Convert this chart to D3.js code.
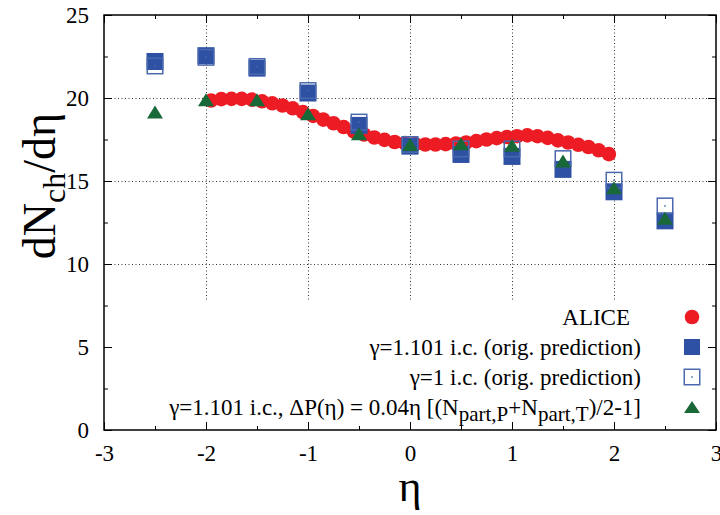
<!DOCTYPE html>
<html>
<head>
<meta charset="utf-8">
<script src="https://cdn.jsdelivr.net/npm/d3@7/dist/d3.min.js"></script>
<style>
  html, body { margin: 0; padding: 0; background: #fff; }
  svg { display: block; }
</style>
</head>
<body>
<script>
// ---------------- data ----------------
const aliceEta = [-1.95,-1.85,-1.75,-1.65,-1.55,-1.45,-1.35,-1.25,-1.15,-1.05,
                  -0.95,-0.85,-0.75,-0.65,-0.55,-0.45,-0.35,-0.25,-0.15,-0.05,
                   0.05, 0.15, 0.25, 0.35, 0.45, 0.55, 0.65, 0.75, 0.85, 0.95,
                   1.05, 1.15, 1.25, 1.35, 1.45, 1.55, 1.65, 1.75, 1.85, 1.95];
const aliceVal = [19.85,19.93,19.95,19.95,19.90,19.80,19.68,19.55,19.38,19.15,
                  18.92,18.70,18.48,18.25,17.98,17.80,17.62,17.48,17.35,17.28,
                  17.22,17.20,17.20,17.22,17.25,17.32,17.40,17.50,17.58,17.65,
                  17.70,17.75,17.70,17.60,17.45,17.32,17.18,17.05,16.85,16.62];
const modelEta = [-2.5,-2,-1.5,-1,-0.5,0,0.5,1,1.5,2,2.5];
const gamma1101 = [22.20,22.55,21.80,20.30,18.35,17.10,16.60,16.48,15.70,14.35,12.60];
const gamma1    = [21.93,22.45,21.90,20.45,18.55,17.20,16.93,16.93,16.35,15.05,13.50];
const gammaDP   = [19.15,19.90,19.90,19.05,17.85,17.20,17.25,17.15,16.20,14.60,12.75];
const xTicks = [-3,-2,-1,0,1,2,3];
const yTicks = [0,5,10,15,20,25];
const xGrid = [-2,-1,0,1,2];
const yGrid = [10,15,20];
const legendLabels = ["ALICE",
  "γ=1.101 i.c. (orig. prediction)",
  "γ=1 i.c. (orig. prediction)",
  "γ=1.101 i.c., ΔP(η) = 0.04η [(N_part,P+N_part,T)/2-1]"];

// ---------------- font pick ----------------
function pickFont(cands) {
  const c = document.createElement("canvas").getContext("2d");
  const s = "γ=1.101 i.c. (orig. prediction) ALICE 0123456789";
  const base = {};
  ["monospace", "sans-serif"].forEach(b => { c.font = "40px " + b; base[b] = c.measureText(s).width; });
  for (const f of cands) {
    let ok = true;
    for (const b of ["monospace", "sans-serif"]) {
      c.font = `40px "${f}", ${b}`;
      if (Math.abs(c.measureText(s).width - base[b]) < 0.01) { ok = false; }
    }
    if (ok) return `"${f}"`;
  }
  return "serif";
}
const FONT = pickFont(["Liberation Serif", "Times New Roman", "Tinos", "Nimbus Roman", "Nimbus Roman No9 L",
                       "DejaVu Serif", "Noto Serif", "FreeSerif", "Times"]);

// ---------------- layout ----------------
const W = 720, H = 515;
const L = 104, R = 716, T = 15, B = 430;
const C_RED = "#ED1C24", C_BLUE = "#2F51A3", C_OPEN = "#4A68AE", C_GREEN = "#196838";

const svg = d3.select("body").append("svg").attr("width", W).attr("height", H)
  .style("font-family", FONT);
const x = d3.scaleLinear().domain([-3, 3]).range([L, R]);
const y = d3.scaleLinear().domain([0, 25]).range([B, T]);

// grid
const grid = svg.append("g").attr("stroke", "#333").attr("stroke-width", 1)
  .attr("stroke-dasharray", "1,2.5").attr("fill", "none");
xGrid.forEach(v => grid.append("line")
  .attr("x1", Math.round(x(v)) + 0.5).attr("x2", Math.round(x(v)) + 0.5)
  .attr("y1", T).attr("y2", B));
yGrid.forEach(v => grid.append("line")
  .attr("x1", L).attr("x2", R)
  .attr("y1", Math.round(y(v)) + 0.5).attr("y2", Math.round(y(v)) + 0.5));

// legend background (opaque)
svg.append("rect").attr("x", L + 1).attr("y", 302).attr("width", R - L - 2).attr("height", B - 302 - 1)
  .attr("fill", "#fff");

// symbols
const SQ = 17;
function triPath(cx, cy, w, h) {
  return `M${cx - w/2},${cy + h/2}L${cx + w/2},${cy + h/2}L${cx},${cy - h/2}Z`;
}
function drawCircle(g, cx, cy) {
  g.append("circle").attr("cx", cx).attr("cy", cy).attr("r", 7.3).attr("fill", C_RED);
}
function drawFilled(g, cx, cy, s) {
  g.append("rect").attr("x", cx - s/2).attr("y", cy - s/2).attr("width", s).attr("height", s).attr("fill", C_BLUE);
}
function drawOpen(g, cx, cy, s) {
  g.append("rect").attr("x", cx - s/2 + 0.75).attr("y", cy - s/2 + 0.75).attr("width", s - 1.5).attr("height", s - 1.5)
    .attr("fill", "none").attr("stroke", C_OPEN).attr("stroke-width", 1.5);
  g.append("rect").attr("x", cx - 0.75).attr("y", cy - 0.75).attr("width", 1.5).attr("height", 1.5).attr("fill", C_OPEN);
}
function drawTri(g, cx, cy, w, h) {
  g.append("path").attr("d", triPath(cx, cy, w, h)).attr("fill", C_GREEN);
}

const data = svg.append("g");
aliceEta.forEach((e, i) => drawCircle(data, x(e), y(aliceVal[i])));
modelEta.forEach((e, i) => drawFilled(data, x(e), y(gamma1101[i]), SQ));
modelEta.forEach((e, i) => drawOpen(data, x(e), y(gamma1[i]), SQ));
modelEta.forEach((e, i) => drawTri(data, x(e), y(gammaDP[i]), 16, 13));

// axes (ticks inward, mirrored)
const fmt = d3.format("d");
const axB = svg.append("g").attr("transform", `translate(0,${B})`)
  .call(d3.axisBottom(x).tickValues(xTicks).tickSize(-8).tickPadding(15).tickFormat(fmt));
const axBm = svg.append("g").attr("transform", `translate(0,${B})`)
  .call(d3.axisBottom(x).tickValues(d3.range(-2.5, 3, 1)).tickSize(-4).tickFormat(""));
const axT = svg.append("g").attr("transform", `translate(0,${T})`)
  .call(d3.axisTop(x).tickValues(xTicks).tickSize(-8).tickFormat(""));
const axTm = svg.append("g").attr("transform", `translate(0,${T})`)
  .call(d3.axisTop(x).tickValues(d3.range(-2.5, 3, 1)).tickSize(-4).tickFormat(""));
const axL = svg.append("g").attr("transform", `translate(${L},0)`)
  .call(d3.axisLeft(y).tickValues(yTicks).tickSize(-8).tickPadding(15).tickFormat(fmt));
const axLm = svg.append("g").attr("transform", `translate(${L},0)`)
  .call(d3.axisLeft(y).tickValues(d3.range(2.5, 25, 5)).tickSize(-4).tickFormat(""));
const axR = svg.append("g").attr("transform", `translate(${R},0)`)
  .call(d3.axisRight(y).tickValues(yTicks).tickSize(-8).tickFormat(""));
const axRm = svg.append("g").attr("transform", `translate(${R},0)`)
  .call(d3.axisRight(y).tickValues(d3.range(2.5, 25, 5)).tickSize(-4).tickFormat(""));
[axB, axBm, axT, axTm, axL, axLm, axR, axRm].forEach(a => {
  a.attr("font-family", null);
  a.select(".domain").remove();
  a.selectAll(".tick line").attr("stroke", "#000").attr("stroke-width", 1);
});
[axB, axL].forEach(a => a.selectAll(".tick text")
  .attr("font-size", 23).attr("fill", "#000"));
axL.selectAll(".tick text").attr("dy", "0.34em");
axB.selectAll(".tick text").attr("dy", "0.71em").text(d => d < 0 ? "-" + Math.abs(d) : String(d));

// border
svg.append("rect").attr("x", L).attr("y", T).attr("width", R - L).attr("height", B - T)
  .attr("fill", "none").attr("stroke", "#000").attr("stroke-width", 1.5);

// axis titles
svg.append("text").attr("x", x(0)).attr("y", 501).attr("text-anchor", "middle")
  .attr("font-size", 44).text("η");
const yt = svg.append("text").attr("transform", "translate(55,186) rotate(-90)")
  .attr("text-anchor", "middle").attr("font-size", 46);
yt.append("tspan").text("dN");
yt.append("tspan").attr("font-size", 32).attr("dy", 10).text("ch");
yt.append("tspan").attr("dy", -10).text("/dη");

// legend
const lg = svg.append("g");
const rowY = [317, 347, 377, 407];
const textRight = 641, symX = 692;
function addText(i) {
  const t = lg.append("text").attr("x", i === 0 ? textRight - 11 : textRight).attr("y", rowY[i] + 8)
    .attr("text-anchor", "end").attr("font-size", 23);
  const parts = legendLabels[i].split(/_(part,[PT])/);
  let shifted = false;
  parts.forEach((p, k) => {
    if (!p.length) return;
    if (k % 2 === 1) {
      t.append("tspan").attr("font-size", 21).attr("dy", 6).text(p);
      shifted = true;
    } else {
      const ts = t.append("tspan").text(p);
      if (shifted) { ts.attr("dy", -6); shifted = false; }
    }
  });
}
legendLabels.forEach((d, i) => addText(i));
drawCircle(lg, symX, rowY[0]);
drawFilled(lg, symX, rowY[1], 16);
drawOpen(lg, symX, rowY[2], 17);
drawTri(lg, symX, rowY[3], 16, 12);
</script>
</body>
</html>
